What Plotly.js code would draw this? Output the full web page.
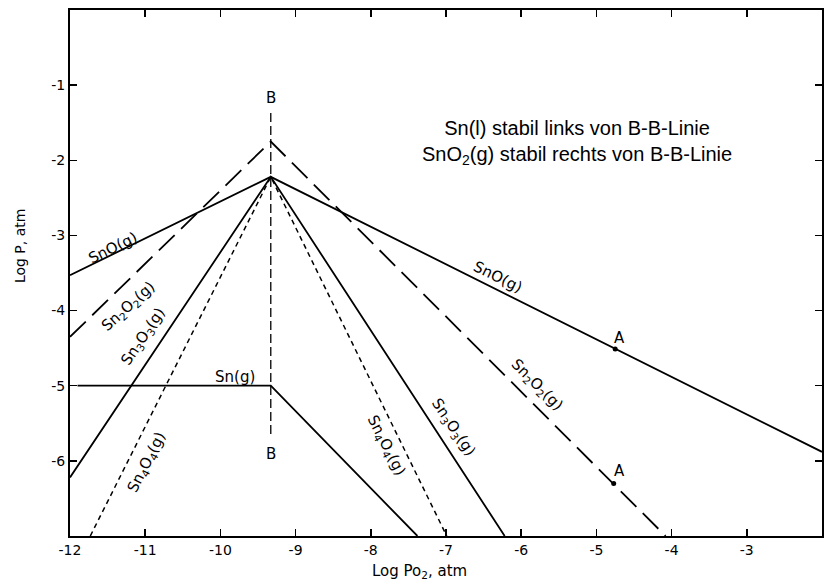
<!DOCTYPE html>
<html>
<head>
<meta charset="utf-8">
<script src="https://cdn.plot.ly/plotly-3.0.1.min.js"></script>
<style>html,body{margin:0;padding:0;background:#fff;}#chart{width:825px;height:581px;}</style>
</head>
<body>
<div id="chart"></div>
<script>
// Data (log pO2 in atm vs log p in atm)
const xSnO = [-12, -9.33, -2];
const ySnO = [-3.53, -2.22, -5.88];
const xSn2O2 = [-12, -9.33, -4.08];
const ySn2O2 = [-4.35, -1.75, -7];
const xSn3O3 = [-12, -9.33, -6.22];
const ySn3O3 = [-6.22, -2.22, -7];
const xSn4O4 = [-11.73, -9.33, -6.99];
const ySn4O4 = [-7, -2.22, -7];
const xSn = [-11.9, -9.33, -7.38];
const ySn = [-5, -5, -7];
const xBB = [-9.33, -9.33];
const yBB = [-1.37, -5.68];
const xA = [-4.75, -4.77];
const yA = [-4.51, -6.3];
const xTicks = [-12, -11, -10, -9, -8, -7, -6, -5, -4, -3, -2];
const yTicks = [-1, -2, -3, -4, -5, -6];

const black = '#000';
const traces = [
  {x: xSnO, y: ySnO, mode: 'lines', line: {color: black, width: 1.8}},
  {x: xSn2O2, y: ySn2O2, mode: 'lines', line: {color: black, width: 1.8, dash: '22px,9px'}},
  {x: xSn3O3, y: ySn3O3, mode: 'lines', line: {color: black, width: 1.8}},
  {x: xSn4O4, y: ySn4O4, mode: 'lines', line: {color: black, width: 1.5, dash: '5px,4px'}},
  {x: xSn, y: ySn, mode: 'lines', line: {color: black, width: 1.8}},
  {x: xBB, y: yBB, mode: 'lines', line: {color: black, width: 1.3, dash: '9px,4px'}},
  {x: xA, y: yA, mode: 'markers', marker: {color: black, size: 5}}
];

const lf = {family: 'DejaVu Sans, Arial, sans-serif', size: 15, color: black};
function lab(x, y, t, a, f) {
  return {x: x, y: y, xref: 'x', yref: 'y', text: t, showarrow: false, textangle: a, font: f || lf,
          xanchor: 'center', yanchor: 'middle'};
}
const bf = {family: 'DejaVu Sans, Arial, sans-serif', size: 15, color: black};
const annotations = [
  lab(-11.43, -3.17, 'SnO(g)', -26),
  lab(-11.22, -3.95, 'Sn<sub>2</sub>O<sub>2</sub>(g)', -42),
  lab(-11.02, -4.35, 'Sn<sub>3</sub>O<sub>3</sub>(g)', -56),
  lab(-10.98, -6.02, 'Sn<sub>4</sub>O<sub>4</sub>(g)', -63),
  lab(-9.8, -4.88, 'Sn(g)', 0),
  lab(-7.8, -5.8, 'Sn<sub>4</sub>O<sub>4</sub>(g)', 63),
  lab(-6.9, -5.55, 'Sn<sub>3</sub>O<sub>3</sub>(g)', 56),
  lab(-5.8, -4.99, 'Sn<sub>2</sub>O<sub>2</sub>(g)', 45),
  lab(-6.31, -3.55, 'SnO(g)', 26),
  lab(-4.69, -4.36, 'A', 0, bf),
  lab(-4.69, -6.13, 'A', 0, bf),
  lab(-9.33, -1.17, 'B', 0, bf),
  lab(-9.33, -5.91, 'B', 0, bf),
  {x: 0.674, y: 0.749, xref: 'paper', yref: 'paper', showarrow: false, xanchor: 'center', yanchor: 'middle',
   text: 'Sn(l) stabil links von B-B-Linie<br>SnO<sub>2</sub>(g) stabil rechts von B-B-Linie',
   font: {family: 'Liberation Sans, Arial, sans-serif', size: 20, color: black}, align: 'center'},
  {x: -0.0665, y: 0.553, xref: 'paper', yref: 'paper', showarrow: false, xanchor: 'center', yanchor: 'middle',
   textangle: -90, text: 'Log P, atm',
   font: {family: 'DejaVu Sans, Arial, sans-serif', size: 14, color: black}},
  {x: 0.465, y: -0.068, xref: 'paper', yref: 'paper', showarrow: false, xanchor: 'center', yanchor: 'middle',
   text: 'Log Po<sub>2</sub>, atm',
   font: {family: 'DejaVu Sans, Arial, sans-serif', size: 15, color: black}}
];

const axisCommon = {
  showgrid: false, zeroline: false, showline: true, linecolor: black, linewidth: 2,
  mirror: 'ticks', ticks: 'inside', ticklen: 7, tickcolor: black, tickwidth: 1.5,
  tickfont: {family: 'DejaVu Sans, Arial, sans-serif', size: 14, color: black}
};

const layout = {
  width: 825, height: 581,
  margin: {l: 70, r: 3, t: 10, b: 45},
  paper_bgcolor: '#fff', plot_bgcolor: '#fff',
  showlegend: false,
  xaxis: Object.assign({}, axisCommon, {
    range: [-12, -2], tickvals: xTicks, ticktext: xTicks.map(String)
  }),
  yaxis: Object.assign({}, axisCommon, {
    range: [-7, 0], tickvals: yTicks, ticktext: yTicks.map(String)
  }),
  annotations: annotations
};

Plotly.newPlot('chart', traces, layout, {staticPlot: true, displayModeBar: false});
</script>
</body>
</html>
